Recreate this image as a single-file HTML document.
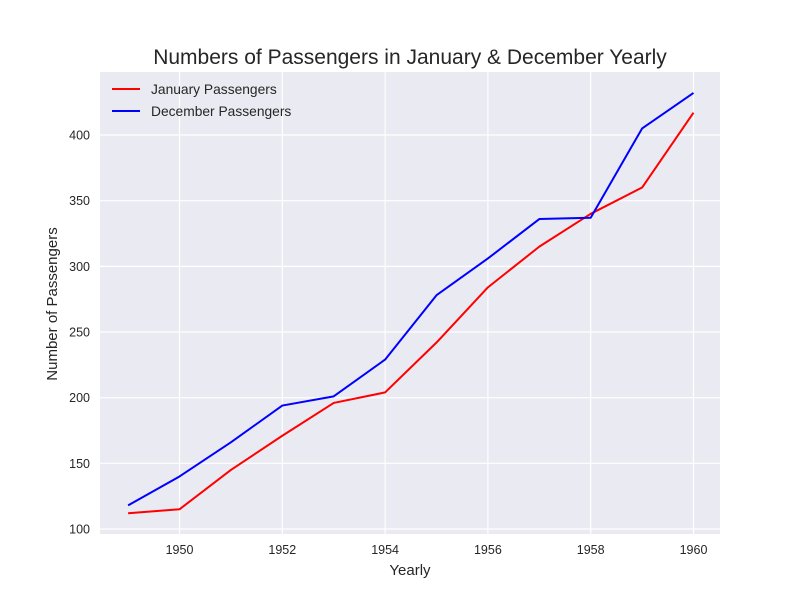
<!DOCTYPE html>
<html><head><meta charset="utf-8"><style>
body{margin:0;background:#fff;}
svg{display:block;font-family:"Liberation Sans",Arial,sans-serif;}
</style></head><body>
<svg id="chart" width="800" height="600"></svg>
<script>
const years=[1949,1950,1951,1952,1953,1954,1955,1956,1957,1958,1959,1960];
const januaryValues=[112,115,145,171,196,204,242,284,315,340,360,417];
const decemberValues=[118,140,166,194,201,229,278,306,336,337,405,432];
const xTicks=[1950,1952,1954,1956,1958,1960];
const yTicks=[100,150,200,250,300,350,400];

const L=100,R=720,T=72,B=534;
const x=v=>179.5+(v-1950)*51.4;
const y=v=>529-(v-100)*1.3133;
const NS="http://www.w3.org/2000/svg";
const svg=document.getElementById('chart');
function mk(tag,attrs,parent){const e=document.createElementNS(NS,tag);for(const k in attrs)e.setAttribute(k,attrs[k]);(parent||svg).appendChild(e);return e;}

const bg=mk('rect',{x:L,y:T,width:R-L,height:B-T,fill:'#eaeaf2'});



xTicks.forEach(t=>{
  const g=mk('line',{x1:x(t),x2:x(t),y1:T,y2:B,stroke:'#fff','stroke-width':1.2});
  
  
  const l=mk('text',{x:x(t),y:554,'text-anchor':'middle','font-size':12.5,fill:'#262626'});
  l.textContent=t;
  
  
});
yTicks.forEach(t=>{
  const g=mk('line',{x1:L,x2:R,y1:y(t),y2:y(t),stroke:'#fff','stroke-width':1.2});
  
  
  const l=mk('text',{x:90,y:y(t)+4.5,'text-anchor':'end','font-size':12.5,fill:'#262626'});
  l.textContent=t;
  
  
});

function line(vals,color,name){
  const p=mk('polyline',{points:vals.map((v,i)=>x(years[i])+','+y(v)).join(' '),fill:'none',stroke:color,'stroke-width':2,'stroke-linejoin':'round'});
  
  
}
line(januaryValues,'#ff0000','january-line');
line(decemberValues,'#0000ff','december-line');

const title=mk('text',{x:410,y:64,'text-anchor':'middle','font-size':21,fill:'#262626'});
title.textContent='Numbers of Passengers in January & December Yearly';



const xt=mk('text',{x:410,y:575,'text-anchor':'middle','font-size':15,fill:'#262626'});
xt.textContent='Yearly';



const yt=mk('text',{x:0,y:0,'text-anchor':'middle','font-size':15,fill:'#262626',transform:'translate(57,304) rotate(-90)'});
yt.textContent='Number of Passengers';



const legend=[['January Passengers','#ff0000',89],['December Passengers','#0000ff',111]];
legend.forEach(([txt,c,yy])=>{
  const s=mk('line',{x1:112,x2:140,y1:yy,y2:yy,stroke:c,'stroke-width':2});
  
  
  const t=mk('text',{x:151,y:yy+5,'font-size':13.8,fill:'#262626'});
  t.textContent=txt;
  
  
});
</script>
</body></html>
